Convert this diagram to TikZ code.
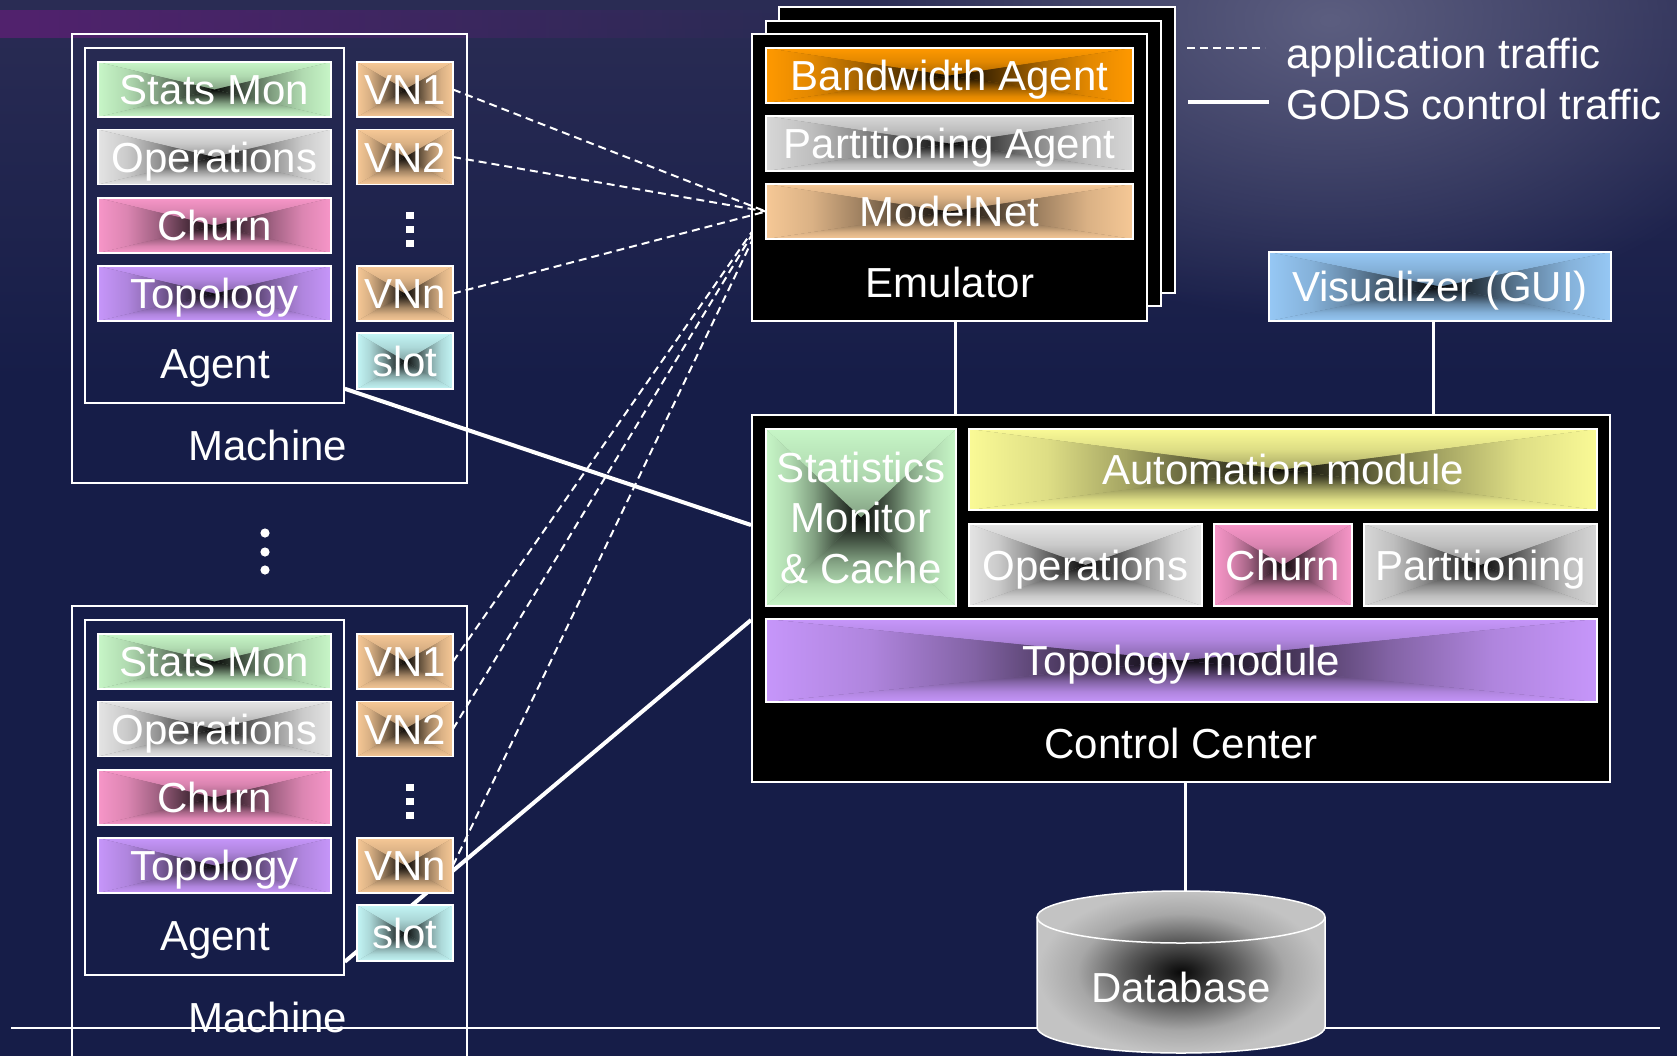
\documentclass[tikz,border=0pt]{standalone}
\usepackage{fontspec}
\setmainfont{Liberation Sans}
\usetikzlibrary{calc,fadings}
\definecolor{navy}{RGB}{22,29,72}
\definecolor{topc}{RGB}{42,44,84}
\definecolor{glowc}{RGB}{92,94,128}
\definecolor{purp}{RGB}{82,34,110}
\definecolor{statsgreen}{RGB}{199,246,199}
\definecolor{opsgray}{RGB}{228,228,228}
\definecolor{churnpink}{RGB}{247,150,200}
\definecolor{topolav}{RGB}{198,150,250}
\definecolor{vntan}{RGB}{246,200,150}
\definecolor{slotcyan}{RGB}{195,245,245}
\definecolor{bworange}{RGB}{255,153,0}
\definecolor{partgray}{RGB}{215,215,215}
\definecolor{autoyellow}{RGB}{250,250,150}
\definecolor{visblue}{RGB}{150,200,245}
\definecolor{dbgray}{RGB}{195,195,195}
\colorlet{boxin}{black}\colorlet{boxout}{white}
\colorlet{pyrc}{white}\colorlet{pyrd}{black}
\pgfdeclareradialshading[boxin,boxout]{boxshade}{\pgfpointorigin}{color(0bp)=(boxin);color(10bp)=(boxout!45!boxin);color(18bp)=(boxout!85!boxin);color(25bp)=(boxout);color(50bp)=(boxout)}
% rectangular path gradient pieces (edge colour pyrc -> centre colour pyrd); pgf maps 25bp..75bp onto the path
\pgfdeclarehorizontalshading[pyrc,pyrd]{pyrL}{100bp}{color(0bp)=(pyrc);color(25bp)=(pyrc);color(37.5bp)=(pyrc!88!pyrd);color(50bp)=(pyrc!64!pyrd);color(62.5bp)=(pyrc!30!pyrd);color(75bp)=(pyrd);color(100bp)=(pyrd)}
\pgfdeclarehorizontalshading[pyrc,pyrd]{pyrR}{100bp}{color(0bp)=(pyrd);color(25bp)=(pyrd);color(37.5bp)=(pyrc!30!pyrd);color(50bp)=(pyrc!64!pyrd);color(62.5bp)=(pyrc!88!pyrd);color(75bp)=(pyrc);color(100bp)=(pyrc)}
\pgfdeclareverticalshading[pyrc,pyrd]{pyrT}{100bp}{color(0bp)=(pyrd);color(25bp)=(pyrd);color(37.5bp)=(pyrc!30!pyrd);color(50bp)=(pyrc!64!pyrd);color(62.5bp)=(pyrc!88!pyrd);color(75bp)=(pyrc);color(100bp)=(pyrc)}
\pgfdeclareverticalshading[pyrc,pyrd]{pyrB}{100bp}{color(0bp)=(pyrc);color(25bp)=(pyrc);color(37.5bp)=(pyrc!88!pyrd);color(50bp)=(pyrc!64!pyrd);color(62.5bp)=(pyrc!30!pyrd);color(75bp)=(pyrd);color(100bp)=(pyrd)}
\tikzfading[name=fadeR, left color=transparent!0, right color=transparent!100]
\tikzfading[name=glowfade, inner color=transparent!0, outer color=transparent!100]
\pgfdeclarelayer{bg0}\pgfdeclarelayer{conn}\pgfdeclarelayer{front}
\pgfsetlayers{bg0,conn,main,front}
\newcommand\fsz{\fontsize{21pt}{25.25pt}\selectfont}
\tikzset{
  lbl/.style={text=white, font=\fsz, inner sep=0pt, text height=15pt, text depth=0pt},
  shadebox/.style={draw=white, line width=0.75pt, inner sep=0pt, outer sep=0pt, text=white, font=\fsz,
     fill=#1!60!black,
     /utils/exec={\colorlet{pyrc}{#1}\colorlet{pyrd}{#1!5!black}},
     path picture={
       \shade[shading=pyrT] (path picture bounding box.north west) -- (path picture bounding box.north east) -- (path picture bounding box.center) -- cycle;
       \shade[shading=pyrB] (path picture bounding box.south west) -- (path picture bounding box.south east) -- (path picture bounding box.center) -- cycle;
       \shade[shading=pyrL] (path picture bounding box.north west) -- (path picture bounding box.south west) -- (path picture bounding box.center) -- cycle;
       \shade[shading=pyrR] (path picture bounding box.north east) -- (path picture bounding box.south east) -- (path picture bounding box.center) -- cycle;
     }},
  mbox/.style={shadebox=#1, text height=15pt, text depth=0pt},
  frame/.style={draw=white, line width=0.75pt, inner sep=0pt},
  blackbox/.style={draw=white, line width=1pt, fill=black, inner sep=0pt},
  ctrl/.style={draw=white, line width=2pt},
  vline/.style={draw=white, line width=1.5pt},
  app/.style={draw=white, line width=1pt, dash pattern=on 4pt off 2.5pt},
}
\newcommand\agentgroup[2]{%
\begin{scope}[shift={(0,#2)}]
\node[frame, minimum width=129.5pt, minimum height=177.5pt] (agent#1) at (214.5,225.5) {};
\node[mbox=statsgreen, minimum width=116.5pt, minimum height=27.5pt] (stats#1) at (214.5,89.5) {Stats Mon};
\node[mbox=opsgray, minimum width=116.5pt, minimum height=27.5pt] (ops#1) at (214.5,157) {Operations};
\node[mbox=churnpink, minimum width=116.5pt, minimum height=27.5pt] (churn#1) at (214.5,225.5) {Churn};
\node[mbox=topolav, minimum width=116.5pt, minimum height=27.5pt] (topo#1) at (214.5,293.5) {Topology};
\node[lbl] (agentlbl#1) at (215,363) {Agent};
\node[mbox=vntan, minimum width=48pt, minimum height=27.5pt] (vna#1) at (405,89.5) {VN1};
\node[mbox=vntan, minimum width=48pt, minimum height=27.5pt] (vnb#1) at (405,157) {VN2};
\node[mbox=vntan, minimum width=48pt, minimum height=27.5pt] (vnn#1) at (405,293.5) {VNn};
\node[mbox=slotcyan, minimum width=48pt, minimum height=28pt] (slot#1) at (405,361) {slot};
\foreach \yy in {215,229,243} {\fill[white] (406,\yy-3.5) rectangle (414,\yy+3.5);}
\node[lbl] (machlbl#1) at (268,445) {Machine};
\end{scope}}
\begin{document}
\begin{tikzpicture}[x=0.5pt,y=-0.5pt]
\useasboundingbox (0,0) rectangle (1677,1056);
\begin{pgfonlayer}{bg0}
  \fill[navy] (0,0) rectangle (1677,1056);
  \shade[top color=topc, bottom color=navy] (0,0) rectangle (1677,380);
  \fill[glowc, path fading=glowfade] (1330,20) ellipse [x radius=240pt, y radius=150pt];
  \fill[purp, path fading=fadeR] (0,10) rectangle (820,38);
\end{pgfonlayer}

% machines
\node[frame, minimum width=197.5pt, minimum height=224.5pt] (mach1) at (269.5,258.5) {};
\node[frame, minimum width=197.5pt, minimum height=250pt] (mach2) at (269.5,856) {};
\agentgroup{1}{0}
\agentgroup{2}{572}
\foreach \yy in {533,552,570} {\fill[white] (265,\yy) circle[radius=2.3pt];}

% emulator stack
\draw[blackbox] (779,7) rectangle (1175,293);
\draw[blackbox] (766,21) rectangle (1161,306);
\node[blackbox, minimum width=197.5pt, minimum height=143.5pt] (emu) at (949.5,177.5) {};
\node[mbox=bworange, minimum width=183.5pt, minimum height=27.5pt] (bw) at (949.5,75.5) {Bandwidth Agent};
\node[mbox=partgray, minimum width=183.5pt, minimum height=27.5pt] (part) at (949.5,143.5) {Partitioning Agent};
\node[mbox=vntan, minimum width=183.5pt, minimum height=27.5pt] (mnet) at (949.5,211.5) {ModelNet};
\node[lbl] (emulbl) at (950,282) {Emulator};

% legend
\coordinate (la1) at (1187,48); \coordinate (la2) at (1265,48);
\coordinate (lc1) at (1188,102); \coordinate (lc2) at (1269,102);
\draw[app] (la1) -- (la2);
\draw[ctrl] (lc1) -- (lc2);
\node[text=white, font=\fsz, inner sep=0pt, anchor=base west] (legapp) at (1286,68) {application traffic};
\node[text=white, font=\fsz, inner sep=0pt, anchor=base west] (legctl) at (1286,119) {GODS control traffic};

% visualizer
\node[mbox=visblue, minimum width=171pt, minimum height=34.5pt] (vis) at (1440,286.5) {Visualizer (GUI)};

% control center
\node[blackbox, minimum width=429pt, minimum height=183.5pt] (cc) at (1181,598.5) {};
\node[shadebox=statsgreen, minimum width=95pt, minimum height=88.5pt, align=center] (smc) at (861,517.5) {Statistics\\Monitor\\\& Cache};
\node[mbox=autoyellow, minimum width=314pt, minimum height=40.5pt] (auto) at (1283,469.5) {Automation module};
\node[mbox=opsgray, minimum width=116.5pt, minimum height=41pt] (ops3) at (1085.5,565) {Operations};
\node[mbox=churnpink, minimum width=69pt, minimum height=41pt] (churn3) at (1283,565) {Churn};
\node[mbox=partgray, minimum width=116.5pt, minimum height=41pt] (part3) at (1480.5,565) {Partitioning};
\node[mbox=topolav, minimum width=415.5pt, minimum height=41.5pt] (topo3) at (1181.5,660.5) {Topology module};
\node[lbl] (cclbl) at (1181,743) {Control Center};

% database
\begin{scope}
\colorlet{boxin}{dbgray!4!black}\colorlet{boxout}{dbgray}
\shade[shading=boxshade, draw=white, line width=0.75pt]
  (1037,917) -- (1037,1027) arc[start angle=180, end angle=360, x radius=72pt, y radius=13pt]
  -- (1325,917) arc[start angle=0, end angle=180, x radius=72pt, y radius=13pt] -- cycle;
\draw[white, line width=0.75pt] (1037,917) arc[start angle=180, end angle=360, x radius=72pt, y radius=13pt];
\end{scope}
\node[lbl, text height=30pt, minimum width=144pt, minimum height=81pt] (db) at (1181,972) {Database};

% connectors
\coordinate (emuc) at ($(emu.south)+(6,0)$);
\coordinate (visc) at ($(vis.south)+(-7,0)$);
\coordinate (ccb) at ($(cc.south)+(4,0)$);
\coordinate (r1) at (11,1028); \coordinate (r2) at (1660,1028);
\begin{pgfonlayer}{conn}
  \draw[white, line width=1pt] (r1) -- (r2);
  \draw[vline] (emuc) -- (emuc |- cc.north);
  \draw[vline] (visc) -- (visc |- cc.north);
  \draw[vline] (ccb) -- (ccb |- db.north);
  \draw[ctrl] ($(agent1.south east)+(0,-15)$) -- ($(cc.west)+(0,-73.5)$);
  \draw[ctrl] ($(agent2.south east)+(0,-14)$) -- ($(cc.west)+(0,21.5)$);
  \draw[app] (vna2.east) -- (mnet.west);
  \draw[app] (vnb2.east) -- (mnet.west);
  \draw[app] (vnn2.east) -- (mnet.west);
\end{pgfonlayer}
\begin{pgfonlayer}{front}
  \draw[app] (vna1.east) -- (mnet.west);
  \draw[app] (vnb1.east) -- (mnet.west);
  \draw[app] (vnn1.east) -- (mnet.west);
\end{pgfonlayer}
\end{tikzpicture}
\end{document}
